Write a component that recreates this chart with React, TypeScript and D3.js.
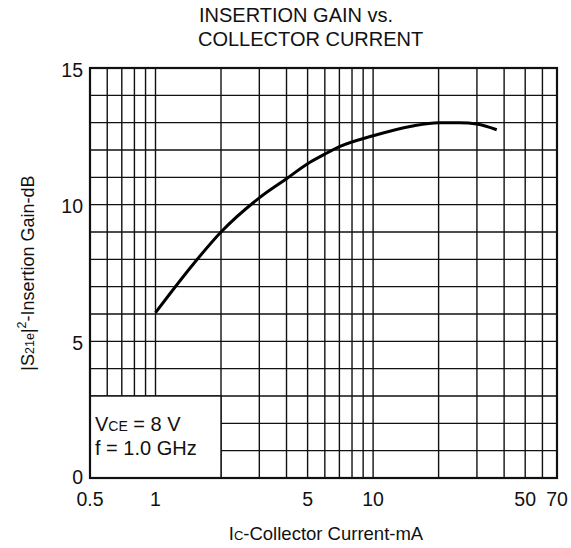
import React from 'react'
import * as d3 from 'd3'

// curve: Ic (mA) vs |S21e|^2 (dB)
const currentMa = [1, 1.5, 2, 3, 4, 5, 6, 7, 10, 15, 20, 25, 30, 37]
const gainDb = [6.05, 7.85, 9.0, 10.25, 10.95, 11.5, 11.85, 12.12, 12.52, 12.87, 13.0, 13.0, 12.95, 12.74]

const xTickValues = [0.5, 1, 5, 10, 50, 70]
const yTickValues = [0, 5, 10, 15]
const xGridValues = [0.6, 0.7, 0.8, 0.9, 1, 2, 3, 4, 5, 6, 7, 8, 9, 10, 20, 30, 40, 50, 60]
const yGridValues = [1, 2, 3, 4, 5, 6, 7, 8, 9, 10, 11, 12, 13, 14]

const W = 571
const H = 548
const margin = {top: 68, right: 14, bottom: 70, left: 90}
const font = "Arial, 'Liberation Sans', Helvetica, sans-serif"

export default function App() {
    const x = d3.scaleLog().domain([0.5, 70]).range([margin.left, W - margin.right])
    const y = d3.scaleLinear().domain([0, 15]).range([H - margin.bottom, margin.top])

    const pts: [number, number][] = currentMa.map((c, i) => [c, gainDb[i]])
    const line = d3.line<[number, number]>()
        .x(d => x(d[0]))
        .y(d => y(d[1]))
        .curve(d3.curveMonotoneX)

    // legend box covers the grid from 0.5 to 2 mA, 0 to 3 dB
    const boxX0 = x(0.5), boxX1 = x(2), boxY0 = y(3), boxY1 = y(0)

    return (
        <svg width={W} height={H} style={{position: 'absolute', left: 0, top: 0}} fontFamily={font}>
            <rect width={W} height={H} fill="#fff"/>
            <text x={199} y={22} fontSize={20} fill="#111">INSERTION GAIN vs.</text>
            <text x={198} y={46} fontSize={20} fill="#111">COLLECTOR CURRENT</text>

            <g stroke="#111" strokeWidth={1.4}>
                {xGridValues.map(v => (
                    <line key={'gx' + v} x1={x(v)} x2={x(v)} y1={y(0)} y2={y(15)}/>
                ))}
                {yGridValues.map(v => (
                    <line key={'gy' + v} x1={x(0.5)} x2={x(70)} y1={y(v)} y2={y(v)}/>
                ))}
            </g>

            <rect x={boxX0} y={boxY0} width={boxX1 - boxX0} height={boxY1 - boxY0}
                  fill="#fff" stroke="#111" strokeWidth={1.4}/>
            <text x={boxX0 + 5} y={boxY0 + 35} fontSize={20} fill="#111">
                V<tspan fontSize={14}>CE</tspan> = 8 V
            </text>
            <text x={boxX0 + 5} y={boxY0 + 59} fontSize={20} fill="#111">f = 1.0 GHz</text>

            <rect x={x(0.5)} y={y(15)} width={x(70) - x(0.5)} height={y(0) - y(15)}
                  fill="none" stroke="#111" strokeWidth={2.2}/>

            <path d={line(pts) ?? ''} fill="none" stroke="#000" strokeWidth={3}/>

            <g fontSize={19.5} fill="#111">
                {yTickValues.map(v => (
                    <text key={'ty' + v} x={margin.left - 7} y={y(v) + (v === 0 ? 6 : 8.5)} textAnchor="end">{v}</text>
                ))}
                {xTickValues.map(v => (
                    <text key={'tx' + v} x={x(v)} y={y(0) + 27.5} textAnchor="middle">{v}</text>
                ))}
            </g>

            <text x={326} y={540} fontSize={18.5} fill="#111" textAnchor="middle">
                I<tspan fontSize={13}>C</tspan>-Collector Current-mA
            </text>
            <text transform={`translate(34,${(y(0) + y(15)) / 2}) rotate(-90)`} fontSize={18}
                  fill="#111" textAnchor="middle">
                |S<tspan fontSize={12.5}>21e</tspan>|<tspan fontSize={12.5} dy={-8}>2</tspan>
                <tspan dy={8}>-Insertion Gain-dB</tspan>
            </text>
        </svg>
    )
}
